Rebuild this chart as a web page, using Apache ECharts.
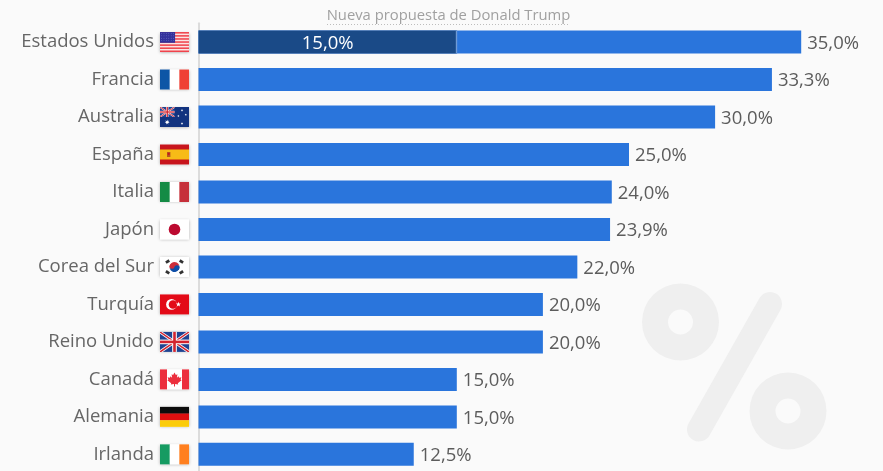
<!DOCTYPE html>
<html lang="es">
<head>
<meta charset="utf-8">
<title>Nueva propuesta de Donald Trump</title>
<style>
html,body{margin:0;padding:0;background:#fafafa;}
#chart{width:883px;height:471px;}
</style>
<script src="https://cdn.jsdelivr.net/npm/echarts@6/dist/echarts.min.js"></script>
</head>
<body>
<div id="chart"></div>
<script>
// Tipos del impuesto de sociedades por país (%)
const categories = ['Estados Unidos','Francia','Australia','España','Italia','Japón','Corea del Sur','Turquía','Reino Unido','Canadá','Alemania','Irlanda'];
const rates = [35.0,33.3,30.0,25.0,24.0,23.9,22.0,20.0,20.0,15.0,15.0,12.5];
const proposal = [15.0];
const subtitle = 'Nueva propuesta de Donald Trump';

const FONT = '"Open Sans", sans-serif';
const BLUE = '#2a75dc';
const NAVY = '#1a4a87';
const W = 29, H = 20;

// Primitivas de las banderas, en coordenadas locales de 29×20
const rect = (x, y, width, height, fill) => ({type:'rect', shape:{x, y, width, height}, style:{fill}});
const dot = (cx, cy, r, fill) => ({type:'circle', shape:{cx, cy, r}, style:{fill}});
const poly = (points, fill) => ({type:'polygon', shape:{points}, style:{fill}});
function star(cx, cy, r, fill, n = 5) {
  const pts = [];
  for (let i = 0; i < n * 2; i++) {
    const a = -Math.PI / 2 + i * Math.PI / n, q = i % 2 ? r * 0.42 : r;
    pts.push([cx + q * Math.cos(a), cy + q * Math.sin(a)]);
  }
  return poly(pts, fill);
}
function thirds(a, b, c) {
  return [rect(0, 0, W / 3 + .3, H, a), rect(W / 3, 0, W / 3 + .3, H, b), rect(2 * W / 3, 0, W / 3, H, c)];
}
function union(w, h) {
  const t = w * 0.09, c = w * 0.05, wh = '#fff', re = '#d3242f';
  return [
    rect(0, 0, w, h, '#1f4391'),
    poly([[0,0],[t,0],[w,h-t*.7],[w,h],[w-t,h],[0,t*.7]], wh),
    poly([[w,0],[w-t,0],[0,h-t*.7],[0,h],[t,h],[w,t*.7]], wh),
    poly([[0,0],[t*.5,0],[w,h-t*.35],[w,h],[w-t*.5,h],[0,t*.35]], re),
    poly([[w,0],[w-t*.5,0],[0,h-t*.35],[0,h],[t*.5,h],[w,t*.35]], re),
    rect(w / 2 - c * 1.6, 0, c * 3.2, h, wh), rect(0, h / 2 - c * 1.6, w, c * 3.2, wh),
    rect(w / 2 - c * .9, 0, c * 1.8, h, re), rect(0, h / 2 - c * .9, w, c * 1.8, re)
  ];
}
const flags = {
  'Estados Unidos': () => {
    const out = [rect(0, 0, W, H, '#fbe4e2')];
    for (let i = 0; i < 7; i++) out.push(rect(0, i * H * 2 / 13, W, H / 13, '#f0434c'));
    out.push(rect(0, 0, W * .52, H * 7 / 13, '#33329c'));
    for (let r = 0; r < 4; r++) for (let k = 0; k < 6; k++) out.push(dot(1.6 + k * 2.4, 1.4 + r * 2.4, .4, '#8f90d8'));
    return out;
  },
  'Francia': () => thirds('#0d56a6', '#ffffff', '#ef4135'),
  'Australia': () => [
    rect(0, 0, W, H, '#12337f'), ...union(14.5, 10),
    star(7.2, 15.2, 2.6, '#fff', 7), star(22, 3.4, 1.3, '#fff', 7), star(22, 16.6, 1.3, '#fff', 7),
    star(18.4, 9, 1.2, '#fff', 7), star(25.8, 7.8, 1.2, '#fff', 7)
  ],
  'España': () => [
    rect(0, 0, W, H, '#c8151d'), rect(0, 5, W, 10, '#f7bb17'),
    rect(7, 7.5, 3.4, 5, '#b5561f'), dot(8.7, 9.4, 1.1, '#c8151d')
  ],
  'Italia': () => thirds('#148b45', '#ffffff', '#c6303a'),
  'Japón': () => [rect(0, 0, W, H, '#fff'), dot(W / 2, H / 2, 5.8, '#bc0a30')],
  'Corea del Sur': () => {
    const out = [rect(0, 0, W, H, '#fff')];
    const cx = W / 2, cy = H / 2;
    out.push({type:'sector', shape:{cx, cy, r:5, startAngle:-Math.PI * 1.1, endAngle:-Math.PI * .1}, style:{fill:'#cd2e3a'}});
    out.push({type:'sector', shape:{cx, cy, r:5, startAngle:-Math.PI * .1, endAngle:Math.PI * .9}, style:{fill:'#0f4fa8'}});
    out.push(dot(cx - 2.4, cy - .8, 2.5, '#cd2e3a'), dot(cx + 2.4, cy + .8, 2.5, '#0f4fa8'));
    [[7.6,4.6,.55],[21.4,4.6,-.55],[7.6,15.4,-.55],[21.4,15.4,.55]].forEach(([x, y, a]) => {
      out.push({type:'rect', x, y, rotation:a, shape:{x:-2, y:-1.4, width:4, height:2.8}, style:{fill:'#333'}});
    });
    return out;
  },
  'Turquía': () => [
    rect(0, 0, W, H, '#e30a17'), dot(11.5, 10, 5.4, '#fff'), dot(13, 10, 4.3, '#e30a17'), star(18.4, 10, 2.7, '#fff')
  ],
  'Reino Unido': () => union(W, H),
  'Canadá': () => [
    rect(0, 0, W, H, '#fff'), rect(0, 0, 7, H, '#ec2f3d'), rect(22, 0, 7, H, '#ec2f3d'),
    poly([[14.5,3],[15.9,5.6],[17.4,4.9],[16.9,8.4],[18.6,6.9],[19.1,8.3],[21.4,7.9],[20.6,10.2],[21.6,10.8],[17.8,13.8],[18.2,15],[15,14.6],[15,17],[14,17],[14,14.6],[10.8,15],[11.2,13.8],[7.4,10.8],[8.4,10.2],[7.6,7.9],[9.9,8.3],[10.4,6.9],[12.1,8.4],[11.6,4.9],[13.1,5.6]], '#ec2f3d')
  ],
  'Alemania': () => [rect(0, 0, W, H / 3 + .3, '#0c0c0c'), rect(0, H / 3, W, H / 3 + .3, '#dd0f0f'), rect(0, 2 * H / 3, W, H / 3, '#fbcc0a')],
  'Irlanda': () => thirds('#169b62', '#ffffff', '#ff7f1f')
};

function renderFlag(params, api) {
  const name = categories[api.value(1)];
  const [x0, yc] = api.coord([api.value(0), api.value(1)]);
  return {
    type: 'group', x: x0 - 38.5, y: yc - H / 2,
    children: [
      {type:'rect', shape:{x:0, y:0, width:W, height:H}, style:{fill:'#fff', shadowBlur:3, shadowColor:'rgba(0,0,0,.3)', shadowOffsetY:.5}},
      ...flags[name]()
    ]
  };
}

// Línea fina que separa la parte propuesta del resto de la barra
function renderDivider(params, api) {
  const top = api.coord([api.value(0), api.value(1)]);
  const half = api.size([0, 1])[1] * 0.307;
  return {type:'rect', shape:{x: top[0] - 1, y: top[1] - half, width: 1.4, height: half * 2}, style:{fill:'#6f9bd6'}};
}

const fmt = v => v.toFixed(1).replace('.', ',') + '%';
const chart = echarts.init(document.getElementById('chart'), null, {renderer:'canvas'});

chart.setOption({
  animation: false,
  backgroundColor: '#fafafa',
  textStyle: {fontFamily: FONT},
  title: {
    text: subtitle, left: 443.5, top: 3, textAlign: 'center',
    textStyle: {fontFamily: FONT, fontSize: 14.8, fontWeight: 'normal', color: '#a0a0a0'}
  },
  graphic: [
    {type:'line', z:1, shape:{x1:327, y1:24.5, x2:570, y2:24.5}, style:{stroke:'#bdbdbd', lineWidth:1, lineDash:[1,2]}},
    // Símbolo de porcentaje de fondo
    {type:'ring', z:0, shape:{cx:680.5, cy:322, r:38.5, r0:12.5}, style:{fill:'#efefef'}},
    {type:'ring', z:0, shape:{cx:788, cy:411, r:38.5, r0:12.5}, style:{fill:'#efefef'}},
    {type:'line', z:0, shape:{x1:770, y1:304, x2:699, y2:429.5}, style:{stroke:'#efefef', lineWidth:24, lineCap:'round'}}
  ],
  grid: {left: 198.5, top: 23.3, width: 684.5, height: 449.8, outerBoundsMode: 'none'},
  xAxis: {type:'value', min:0, max:39.75, show:false},
  yAxis: {
    type: 'category', data: categories, inverse: true, offset: 1,
    axisLine: {show:true, lineStyle:{color:'#dcdcdc', width:2}},
    axisTick: {show:false},
    axisLabel: {margin: 43.5, fontFamily: FONT, fontSize: 18.5, color: '#666666', align:'right', padding:[2,0,0,0]}
  },
  series: [
    {
      type: 'bar', data: rates, barWidth: 23, barGap: '-100%', z: 3,
      itemStyle: {color: BLUE},
      label: {show:true, position:'right', distance:6, offset:[0,1.5], fontFamily:FONT, fontSize:18.5, color:'#5c5c5c', formatter: p => fmt(p.value)}
    },
    {
      type: 'bar', data: proposal, barWidth: 23, barGap: '-100%', z: 4,
      itemStyle: {color: NAVY},
      label: {show:true, position:'inside', offset:[0,1.5], fontFamily:FONT, fontSize:18.5, color:'#ffffff', formatter: p => fmt(p.value)}
    },
    {
      type: 'custom', z: 5, clip: false, renderItem: renderDivider,
      data: proposal.map((v, i) => [v, i]), encode: {x:0, y:1}, silent: true
    },
    {
      type: 'custom', z: 5, clip: false, renderItem: renderFlag,
      data: categories.map((c, i) => [0, i]), encode: {x:0, y:1}, silent: true
    }
  ]
});
</script>
</body>
</html>
